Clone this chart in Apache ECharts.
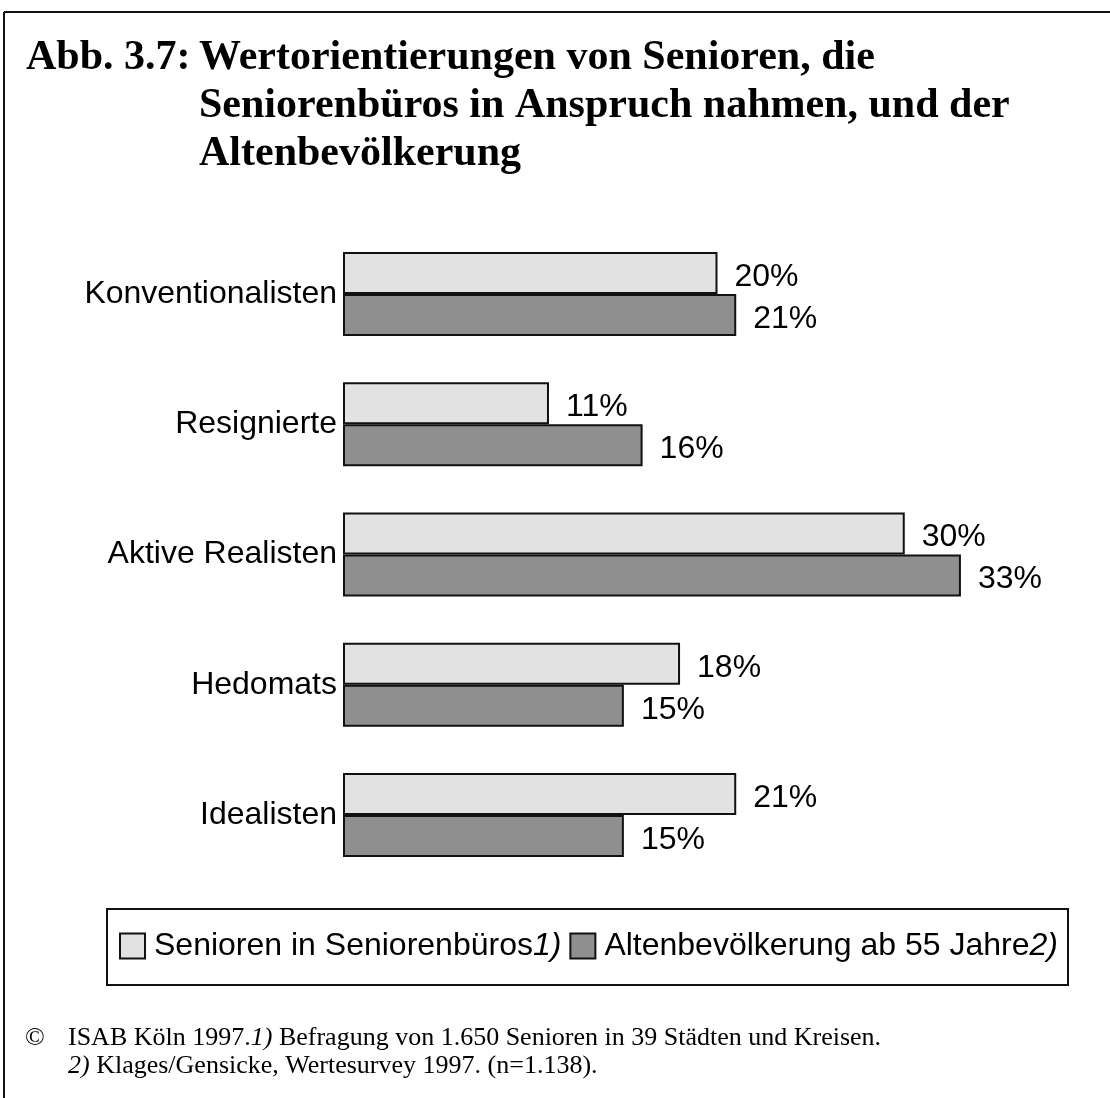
<!DOCTYPE html>
<html>
<head>
<meta charset="utf-8">
<script src="https://cdn.jsdelivr.net/npm/echarts@6/dist/echarts.min.js"></script>
<style>
  html, body { margin: 0; padding: 0; background: #fff; }
  #main { width: 1110px; height: 1098px; }
</style>
</head>
<body>
<div id="main"></div>
<script>
// Kategorien und Werte (in %)
const categories = ['Konventionalisten', 'Resignierte', 'Aktive Realisten', 'Hedomats', 'Idealisten']
const seniorenBueros = [20, 11, 30, 18, 21]
const altenBevoelkerung = [21, 16, 33, 15, 15]
const seriesNames = ['Senioren in Seniorenbüros', 'Altenbevölkerung ab 55 Jahre']
const seriesNotes = ['1)', '2)']

const sans = 'Liberation Sans, Arial, sans-serif'
const serif = 'Liberation Serif, Times New Roman, serif'

const chart = echarts.init(document.querySelector('#main'))

// Wertebeschriftung rechts neben den Balken
const valueLabel = {
  show: true,
  position: 'right',
  distance: 17,
  offset: [0, 4],
  formatter: '{c}%',
  fontFamily: sans,
  fontSize: 32,
  color: '#000'
}

const option = {
  backgroundColor: '#fff',
  animation: false,
  title: [
    {
      text: 'Abb. 3.7:',
      left: 26,
      top: 34,
      padding: 0,
      textStyle: { fontFamily: serif, fontWeight: 'bold', fontSize: 42, lineHeight: 48, color: '#000' }
    },
    {
      text: 'Wertorientierungen von Senioren, die\nSeniorenbüros in Anspruch nahmen, und der\nAltenbevölkerung',
      left: 199,
      top: 34,
      padding: 0,
      textStyle: { fontFamily: serif, fontWeight: 'bold', fontSize: 42, lineHeight: 48, color: '#000' }
    }
  ],
  grid: {
    left: 343,
    top: 229,
    width: 749,
    height: 651,
    containLabel: false
  },
  xAxis: {
    type: 'value',
    min: 0,
    max: 40,
    show: false
  },
  yAxis: {
    type: 'category',
    inverse: true,
    data: categories,
    axisLine: { show: false },
    axisTick: { show: false },
    axisLabel: {
      margin: 6,
      fontFamily: sans,
      fontSize: 32,
      color: '#000'
    }
  },
  legend: {
    left: 119,
    top: 930,
    padding: 0,
    itemGap: 8,
    itemWidth: 25,
    itemHeight: 25,
    icon: 'rect',
    data: seriesNames,
    formatter: name => `{n|${name}}{s|${seriesNotes[seriesNames.indexOf(name)]}}`,
    textStyle: {
      padding: [0, 0, 0, 4],
      rich: {
        n: { fontFamily: sans, fontSize: 32, color: '#000' },
        s: { fontFamily: sans, fontSize: 32, fontStyle: 'italic', color: '#000' }
      }
    }
  },
  series: [
    {
      name: seriesNames[0],
      type: 'bar',
      data: seniorenBueros,
      barWidth: 42,
      barGap: '0%',
      itemStyle: { color: '#e2e2e2', borderColor: '#111', borderWidth: 2 },
      label: valueLabel
    },
    {
      name: seriesNames[1],
      type: 'bar',
      data: altenBevoelkerung,
      barWidth: 42,
      barGap: '0%',
      itemStyle: { color: '#8f8f8f', borderColor: '#111', borderWidth: 2 },
      label: valueLabel
    }
  ],
  graphic: [
    // Rahmen oben und links
    { type: 'line', shape: { x1: 4, y1: 12, x2: 1110, y2: 12 }, style: { stroke: '#111', lineWidth: 2 } },
    { type: 'line', shape: { x1: 4, y1: 12, x2: 4, y2: 1098 }, style: { stroke: '#111', lineWidth: 2 } },
    // Legendenrahmen
    { type: 'rect', shape: { x: 107, y: 909, width: 961, height: 76 }, style: { fill: 'none', stroke: '#111', lineWidth: 2 } },
    // Fußnote
    {
      type: 'text',
      x: 25,
      y: 1038,
      style: { text: '©', font: '26px ' + serif, fill: '#000', verticalAlign: 'middle' }
    },
    {
      type: 'text',
      x: 68,
      y: 1038,
      style: {
        text: '{r|ISAB Köln 1997.}{i|1)}{r| Befragung von 1.650 Senioren in 39 Städten und Kreisen.}',
        verticalAlign: 'middle',
        rich: {
          r: { fontFamily: serif, fontSize: 26, fill: '#000' },
          i: { fontFamily: serif, fontSize: 26, fontStyle: 'italic', fill: '#000' }
        }
      }
    },
    {
      type: 'text',
      x: 68,
      y: 1066,
      style: {
        text: '{i|2)}{r| Klages/Gensicke, Wertesurvey 1997. (n=1.138).}',
        verticalAlign: 'middle',
        rich: {
          r: { fontFamily: serif, fontSize: 26, fill: '#000' },
          i: { fontFamily: serif, fontSize: 26, fontStyle: 'italic', fill: '#000' }
        }
      }
    }
  ]
}

chart.setOption(option)
</script>
</body>
</html>
